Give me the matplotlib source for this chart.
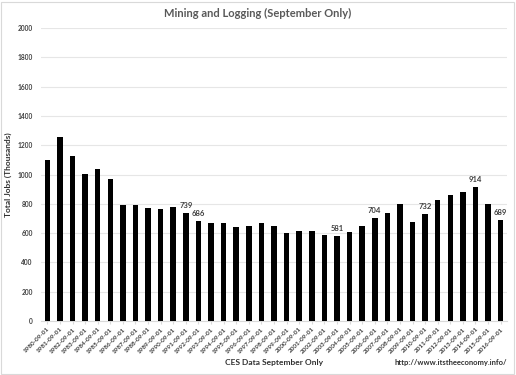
import matplotlib.pyplot as plt
from matplotlib.patches import Rectangle

# ======= Data =======
years = list(range(1980, 2017))
tick_labels = [f"{y}-09-01" for y in years]
jobs = [1097, 1259, 1125, 1002, 1038, 972, 790, 790, 770, 767,
        777, 739, 686, 671, 668, 644, 646, 669, 647, 601,
        615, 617, 585, 581, 608, 647, 704, 738, 797, 678,
        732, 824, 858, 879, 914, 799, 689]
labeled_years = [1991, 1992, 2003, 2006, 2010, 2014, 2016]
# ====================

plt.rcParams['font.family'] = ['Lato', 'DejaVu Sans']

fig = plt.figure(figsize=(5.16, 3.75), dpi=100)
ax = fig.add_axes([0.0795, 0.144, 0.903, 0.781])

x = list(range(len(years)))
ax.bar(x, jobs, width=0.44, color="black", zorder=3)

for i, (yr, v) in enumerate(zip(years, jobs)):
    if yr in labeled_years:
        ax.text(i, v + 25, str(v), ha="center", va="bottom",
                fontsize=5.5, fontweight="bold", color="#404040")

ax.set_xlim(-0.5, len(years) - 0.5)
ax.set_ylim(0, 2000)
ax.set_yticks(range(0, 2001, 200))
ax.set_yticklabels([str(v) for v in range(0, 2001, 200)],
                   fontsize=4.8, fontweight="bold", color="#404040")
ax.set_xticks(x)
ax.set_xticklabels(tick_labels, rotation=45, ha="right",
                   rotation_mode="anchor", fontsize=4.6, fontweight="bold",
                   color="#404040")
ax.tick_params(axis="y", length=0, pad=6)
ax.tick_params(axis="x", length=2, color="#d9d9d9", pad=2)

ax.grid(axis="y", color="#e6e6e6", linewidth=0.8, zorder=0)
for s in ["top", "right", "left"]:
    ax.spines[s].set_visible(False)
ax.spines["bottom"].set_color("#d9d9d9")

ax.set_ylabel("Total Jobs (Thousands)", fontsize=6, fontweight="bold",
              color="#303030", labelpad=4)
fig.text(0.531, 0.028, "CES Data September Only", ha="center",
         fontsize=6, fontweight="bold", color="#303030")
fig.text(0.873, 0.028, "http://www.itstheeconomy.info/", ha="center",
         fontsize=5.5, fontweight="bold", color="#303030")
fig.text(0.499, 0.955, "Mining and Logging (September Only)", ha="center",
         fontsize=8, fontweight="bold", color="#595959")

fig.patches.append(Rectangle((0.002, 0.003), 0.995, 0.993, transform=fig.transFigure,
                             fill=False, edgecolor="#d9d9d9", linewidth=0.8))

plt.savefig("out.png", dpi=100)
